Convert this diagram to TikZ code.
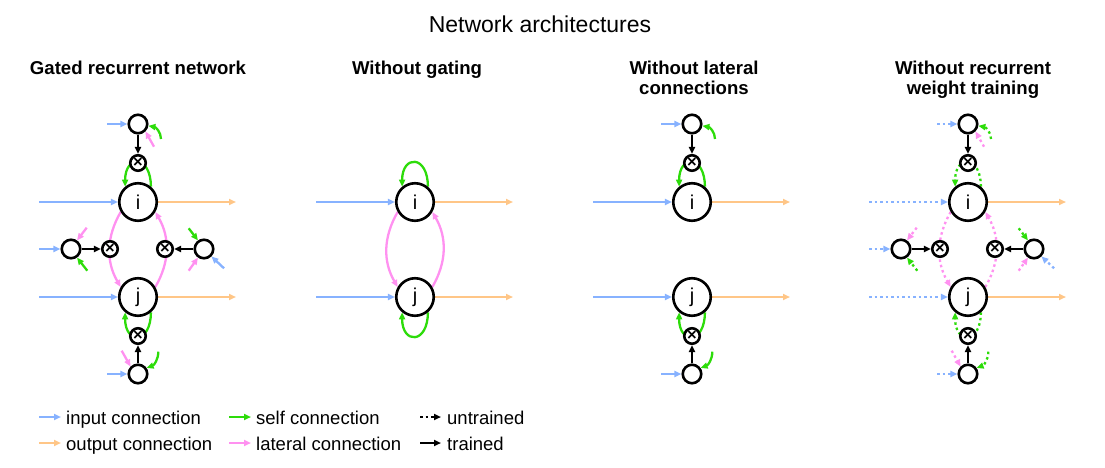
\documentclass[tikz,border=0pt]{standalone}
\usepackage{fontspec}
\setmainfont{Liberation Sans}
\usetikzlibrary{arrows.meta}
\pgfdeclarelayer{bg}
\pgfsetlayers{bg,main}
\definecolor{cin}{RGB}{135,178,255}
\definecolor{cout}{RGB}{255,198,135}
\definecolor{cself}{RGB}{45,220,10}
\definecolor{clat}{RGB}{255,145,240}
\tikzset{
  neuron/.style={circle,draw,line width=2.6pt,fill=white,minimum size=37.5pt,inner sep=0pt,font=\fontsize{20}{20}\selectfont},
  aux/.style={circle,draw,line width=2.6pt,fill=white,minimum size=18.5pt,inner sep=0pt},
  gate/.style={circle,draw,line width=2.6pt,fill=white,minimum size=15.5pt,inner sep=0pt,font=\fontsize{16.5}{16.5}\selectfont\bfseries},
  conn/.style={line width=2.3pt,-{Triangle[length=7pt,width=6pt]}},
  inp/.style={conn,draw=cin},
  outp/.style={conn,draw=cout},
  selfc/.style={conn,draw=cself},
  latc/.style={conn,draw=clat},
  trained/.style={conn,draw=black},
  untrained/.style={dash pattern=on 2.5pt off 3pt},
  ttl/.style={font=\fontsize{18.6}{19}\selectfont\bfseries,anchor=base,inner sep=0pt},
  leg/.style={font=\fontsize{18.5}{19}\selectfont,anchor=base west,inner sep=0pt},
}
% gated panel: #1 prefix, #2 centre x, #3 extra style for trainable connections
\newcommand\gatedpanel[3]{%
\begin{scope}[xshift=#2pt]
  \node[aux] (#1T) at (0,343) {};
  \node[gate] (#1X1) at (0,304) {×};
  \node[neuron] (#1i) at (0,265) {i};
  \node[neuron] (#1j) at (0,170) {j};
  \node[gate] (#1X2) at (0,131) {×};
  \node[aux] (#1B) at (0,93) {};
  \node[aux] (#1L) at (-67,218) {};
  \node[gate] (#1XL) at (-28,218) {×};
  \node[gate] (#1XR) at (27,218) {×};
  \node[aux] (#1R) at (66,218) {};
  \coordinate (#1iin) at (-99,265);
  \coordinate (#1iout) at (98,265);
  \coordinate (#1jin) at (-99,170);
  \coordinate (#1jout) at (98,170);
  \coordinate (#1Tin) at (-31,343);
  \coordinate (#1Tself) at (23,328);
  \coordinate (#1Tlat) at (16,320.3);
  \coordinate (#1Bin) at (-31,93);
  \coordinate (#1Bself) at (20.3,115.3);
  \coordinate (#1Blat) at (-16.3,116.3);
  \coordinate (#1Lin) at (-99,218);
  \coordinate (#1Llat) at (-51.3,239.3);
  \coordinate (#1Lself) at (-50.7,196.3);
  \coordinate (#1Rself) at (50.7,238.7);
  \coordinate (#1Rlat) at (50.7,196.3);
  \coordinate (#1Rin) at (86,198.7);
  \begin{pgfonlayer}{bg}
    \draw[inp,#3] (#1iin) -- (#1i);
    \draw[inp,#3] (#1jin) -- (#1j);
    \draw[outp] (#1i) -- (#1iout);
    \draw[outp] (#1j) -- (#1jout);
    \draw[inp,#3] (#1Tin) -- (#1T);
    \draw[selfc,#3] (#1Tself) to[out=90,in=-10] (#1T.-10);
    \draw[latc,#3] (#1Tlat) -- (#1T.-45);
    \draw[trained] (#1T) -- (#1X1);
    \draw[selfc,#3] (#1i.50) .. controls +(0,32) and +(0,32) .. (#1i.130);
    \draw[selfc,#3] (#1j.-50) .. controls +(0,-32) and +(0,-32) .. (#1j.-130);
    \draw[trained] (#1B) -- (#1X2);
    \draw[inp,#3] (#1Bin) -- (#1B);
    \draw[latc,#3] (#1Blat) -- (#1B.135);
    \draw[selfc,#3] (#1Bself) to[out=-90,in=20] (#1B.35);
    \draw[latc,#3] (#1i.210) to[out=240,in=120] (#1j.150);
    \draw[latc,#3] (#1j.30) to[out=60,in=300] (#1i.330);
    \draw[inp,#3] (#1Lin) -- (#1L);
    \draw[trained] (#1L) -- (#1XL);
    \draw[latc,#3] (#1Llat) -- (#1L.55);
    \draw[selfc,#3] (#1Lself) -- (#1L.-55);
    \draw[trained] (#1R) -- (#1XR);
    \draw[selfc,#3] (#1Rself) -- (#1R.125);
    \draw[latc,#3] (#1Rlat) -- (#1R.235);
    \draw[inp,#3] (#1Rin) -- (#1R.-45);
  \end{pgfonlayer}
\end{scope}}
\begin{document}
\begin{tikzpicture}[x=1pt,y=1pt]
\useasboundingbox (0,0) rectangle (1105,467);
\node[font=\fontsize{23}{27}\selectfont,anchor=base,inner sep=0pt] (title) at (540,434) {Network architectures};
\node[ttl] (t1) at (138,392) {Gated recurrent network};
\node[ttl] (t2) at (417,392) {Without gating};
\node[ttl] (t3a) at (694,392) {Without lateral};
\node[ttl] (t3b) at (694,373) {connections};
\node[ttl] (t4a) at (973,392) {Without recurrent};
\node[ttl] (t4b) at (973,373) {weight training};
% panel 1
\gatedpanel{a}{138}{}
% panel 4
\gatedpanel{d}{968}{untrained}
% panel 2
\begin{scope}[xshift=415pt]
  \node[neuron] (bi) at (0,265) {i};
  \node[neuron] (bj) at (0,170) {j};
  \coordinate (biin) at (-99,265);
  \coordinate (biout) at (98,265);
  \coordinate (bjin) at (-99,170);
  \coordinate (bjout) at (98,170);
  \begin{pgfonlayer}{bg}
    \draw[inp] (biin) -- (bi);
    \draw[inp] (bjin) -- (bj);
    \draw[outp] (bi) -- (biout);
    \draw[outp] (bj) -- (bjout);
    \draw[selfc] (bi.50) .. controls +(0,32) and +(0,32) .. (bi.130);
    \draw[selfc] (bj.-50) .. controls +(0,-32) and +(0,-32) .. (bj.-130);
    \draw[latc] (bi.210) to[out=240,in=120] (bj.150);
    \draw[latc] (bj.30) to[out=60,in=300] (bi.330);
  \end{pgfonlayer}
\end{scope}
% panel 3
\begin{scope}[xshift=692pt]
  \node[aux] (cT) at (0,343) {};
  \node[gate] (cX1) at (0,304) {×};
  \node[neuron] (ci) at (0,265) {i};
  \node[neuron] (cj) at (0,170) {j};
  \node[gate] (cX2) at (0,131) {×};
  \node[aux] (cB) at (0,93) {};
  \coordinate (ciin) at (-99,265);
  \coordinate (ciout) at (98,265);
  \coordinate (cjin) at (-99,170);
  \coordinate (cjout) at (98,170);
  \coordinate (cTin) at (-31,343);
  \coordinate (cTself) at (23,328);
  \coordinate (cBin) at (-31,93);
  \coordinate (cBself) at (20.3,115.3);
  \begin{pgfonlayer}{bg}
    \draw[inp] (ciin) -- (ci);
    \draw[inp] (cjin) -- (cj);
    \draw[outp] (ci) -- (ciout);
    \draw[outp] (cj) -- (cjout);
    \draw[inp] (cTin) -- (cT);
    \draw[selfc] (cTself) to[out=90,in=-10] (cT.-10);
    \draw[trained] (cT) -- (cX1);
    \draw[selfc] (ci.50) .. controls +(0,32) and +(0,32) .. (ci.130);
    \draw[selfc] (cj.-50) .. controls +(0,-32) and +(0,-32) .. (cj.-130);
    \draw[trained] (cB) -- (cX2);
    \draw[inp] (cBin) -- (cB);
    \draw[selfc] (cBself) to[out=-90,in=20] (cB.35);
  \end{pgfonlayer}
\end{scope}
% legend
\coordinate (l1a) at (39,50);   \coordinate (l1b) at (61,50);
\coordinate (l2a) at (39,24);   \coordinate (l2b) at (61,24);
\coordinate (l3a) at (229,50);  \coordinate (l3b) at (251,50);
\coordinate (l4a) at (229,24);  \coordinate (l4b) at (251,24);
\coordinate (l5a) at (420,50);  \coordinate (l5b) at (441,50);
\coordinate (l6a) at (420,24);  \coordinate (l6b) at (441,24);
\draw[inp] (l1a) -- (l1b);
\draw[outp] (l2a) -- (l2b);
\draw[selfc] (l3a) -- (l3b);
\draw[latc] (l4a) -- (l4b);
\draw[trained,untrained] (l5a) -- (l5b);
\draw[trained] (l6a) -- (l6b);
\node[leg] (lg1) at (66,43) {input connection};
\node[leg] (lg2) at (66,17) {output connection};
\node[leg] (lg3) at (256,43) {self connection};
\node[leg] (lg4) at (256,17) {lateral connection};
\node[leg] (lg5) at (447,43) {untrained};
\node[leg] (lg6) at (447,17) {trained};
\end{tikzpicture}
\end{document}
